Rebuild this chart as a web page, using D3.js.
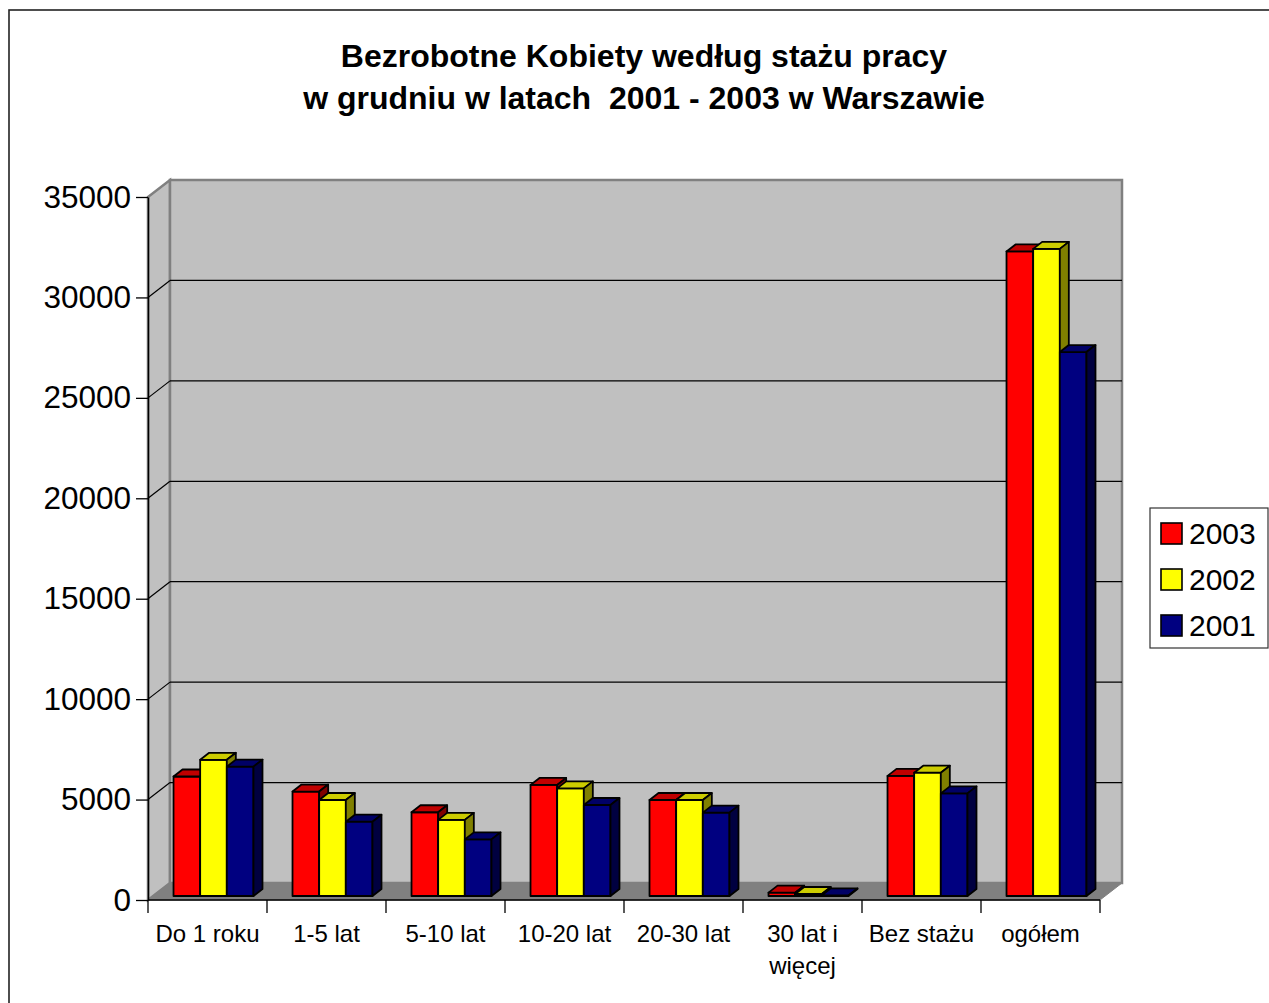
<!DOCTYPE html>
<html>
<head>
<meta charset="utf-8">
<script src="https://cdn.jsdelivr.net/npm/d3@7"></script>
<style>
  body { margin: 0; background: #fff; }
  text { font-family: Arial, "Liberation Sans", sans-serif; fill: #000; }
</style>
</head>
<body>
<div id="chart"></div>
<script>
// Data
const categories = ['Do 1 roku', '1-5 lat', '5-10 lat', '10-20 lat', '20-30 lat', '30 lat i więcej', 'Bez stażu', 'ogółem']
const categoryLabels = [['Do 1 roku'], ['1-5 lat'], ['5-10 lat'], ['10-20 lat'], ['20-30 lat'], ['30 lat i', 'więcej'], ['Bez stażu'], ['ogółem']]
const years = ['2003', '2002', '2001']
const values2003 = [5950, 5200, 4170, 5530, 4780, 170, 5980, 32090]
const values2002 = [6780, 4780, 3790, 5360, 4780, 100, 6140, 32220]
const values2001 = [6440, 3700, 2820, 4530, 4150, 30, 5110, 27080]
const yTicks = [0, 5000, 10000, 15000, 20000, 25000, 30000, 35000]
const titleLines = ['Bezrobotne Kobiety według stażu pracy', 'w grudniu w latach  2001 - 2003 w Warszawie']

const seriesValues = [values2003, values2002, values2001]

// Look
const width = 1269
const height = 1003
const colors = {
  '2003': { front: '#ff0000', top: '#c00000', side: '#800000' },
  '2002': { front: '#ffff00', top: '#cccc00', side: '#808000' },
  '2001': { front: '#000080', top: '#000066', side: '#000040' }
}

// 3D geometry: front plane of the axes, depth of the walls and of the bars
const plotLeft = 148
const plotRight = 1100
const plotBottom = 900
const plotTop = 197
const depthX = 22
const depthY = -17
const barShiftX = 6
const barShiftY = -4
const barDepthX = 9
const barDepthY = -7

const svg = d3.select('#chart')
  .append('svg')
  .attr('width', width)
  .attr('height', height)

// outer frame
svg.append('rect')
  .attr('x', 9)
  .attr('y', 10)
  .attr('width', 1400)
  .attr('height', 1200)
  .attr('fill', 'none')
  .attr('stroke', '#222')
  .attr('stroke-width', 1.6)

// Scales
const x = d3.scaleBand()
  .domain(categories)
  .range([plotLeft, plotRight])
  .paddingInner(0.328)
  .paddingOuter(0.164)

const xSeries = d3.scaleBand()
  .domain(years)
  .range([0, x.bandwidth()])

const y = d3.scaleLinear()
  .domain([0, 35000])
  .range([plotBottom, plotTop])

// Walls
const walls = svg.append('g').attr('class', 'walls')

walls.append('polygon')
  .attr('points', [[plotLeft, y(35000)], [plotLeft + depthX, y(35000) + depthY], [plotLeft + depthX, y(0) + depthY], [plotLeft, y(0)]].join(' '))
  .attr('fill', '#c0c0c0')
  .attr('stroke', '#808080')
  .attr('stroke-width', 2.5)

walls.append('rect')
  .attr('x', plotLeft + depthX)
  .attr('y', y(35000) + depthY)
  .attr('width', plotRight - plotLeft)
  .attr('height', y(0) - y(35000))
  .attr('fill', '#c0c0c0')
  .attr('stroke', '#808080')
  .attr('stroke-width', 2.5)

walls.append('polygon')
  .attr('points', [[plotLeft, y(0)], [plotRight, y(0)], [plotRight + depthX, y(0) + depthY], [plotLeft + depthX, y(0) + depthY]].join(' '))
  .attr('fill', '#808080')
  .attr('stroke', '#808080')
  .attr('stroke-width', 1)

// Gridlines on the back and side walls
const grid = walls.selectAll('.grid')
  .data(yTicks.filter(d => d > 0 && d < 35000))
  .enter()
  .append('g')
  .attr('class', 'grid')

grid.append('line')
  .attr('x1', plotLeft + depthX)
  .attr('x2', plotRight + depthX)
  .attr('y1', d => y(d) + depthY)
  .attr('y2', d => y(d) + depthY)
  .attr('stroke', '#000')
  .attr('stroke-width', 1.2)

grid.append('line')
  .attr('x1', plotLeft)
  .attr('x2', plotLeft + depthX)
  .attr('y1', d => y(d))
  .attr('y2', d => y(d) + depthY)
  .attr('stroke', '#000')
  .attr('stroke-width', 1.2)

// Bars, drawn left to right so the nearer ones cover the sides
const bars = []
categories.forEach((c, i) => {
  years.forEach((yr, j) => {
    bars.push({ category: c, year: yr, value: seriesValues[j][i] })
  })
})

const barGroups = svg.append('g')
  .attr('class', 'bars')
  .selectAll('g')
  .data(bars)
  .enter()
  .append('g')
  .attr('stroke', '#000')
  .attr('stroke-width', 1.8)
  .attr('stroke-linejoin', 'round')

barGroups.each(function (d) {
  const g = d3.select(this)
  const x0 = x(d.category) + xSeries(d.year) + barShiftX
  const x1 = x0 + xSeries.bandwidth()
  const yTop = y(d.value) + barShiftY
  const yBase = y(0) + barShiftY

  g.append('rect')
    .attr('x', x0)
    .attr('y', yTop)
    .attr('width', x1 - x0)
    .attr('height', yBase - yTop)
    .attr('fill', colors[d.year].front)

  g.append('polygon')
    .attr('points', [[x0, yTop], [x1, yTop], [x1 + barDepthX, yTop + barDepthY], [x0 + barDepthX, yTop + barDepthY]].join(' '))
    .attr('fill', colors[d.year].top)

  g.append('polygon')
    .attr('points', [[x1, yTop], [x1 + barDepthX, yTop + barDepthY], [x1 + barDepthX, yBase + barDepthY], [x1, yBase]].join(' '))
    .attr('fill', colors[d.year].side)
})

// Axes
const axisY = d3.axisLeft(y)
  .tickValues(yTicks)
  .tickFormat(d3.format('d'))
  .tickSize(12)
  .tickPadding(5)
  .tickSizeOuter(0)

svg.append('g')
  .attr('class', 'axisY')
  .attr('transform', `translate(${plotLeft}, 0)`)
  .call(axisY)
  .call(g => g.select('.domain').attr('stroke', '#000').attr('stroke-width', 1.5))
  .call(g => g.selectAll('.tick line').attr('stroke', '#000').attr('stroke-width', 1.3))
  .call(g => g.selectAll('.tick text')
    .attr('font-size', 31.5)
    .attr('font-family', 'Arial, "Liberation Sans", sans-serif')
    .attr('fill', '#000'))

// category axis: ticks between categories
const xBounds = d3.range(categories.length + 1).map(i => plotLeft + i * x.step())

svg.append('line')
  .attr('x1', plotLeft)
  .attr('x2', plotRight)
  .attr('y1', plotBottom)
  .attr('y2', plotBottom)
  .attr('stroke', '#000')
  .attr('stroke-width', 1.5)

svg.selectAll('.xtick')
  .data(xBounds)
  .enter()
  .append('line')
  .attr('class', 'xtick')
  .attr('x1', d => d)
  .attr('x2', d => d)
  .attr('y1', plotBottom)
  .attr('y2', plotBottom + 13)
  .attr('stroke', '#000')
  .attr('stroke-width', 1.3)

const xLabels = svg.selectAll('.xlabel')
  .data(categories)
  .enter()
  .append('text')
  .attr('class', 'xlabel')
  .attr('text-anchor', 'middle')
  .attr('font-size', 24)

xLabels.selectAll('tspan')
  .data((d, i) => categoryLabels[i].map(line => ({ line, c: d })))
  .enter()
  .append('tspan')
  .attr('x', d => x(d.c) + x.bandwidth() / 2)
  .attr('y', (d, k) => 942 + k * 32)
  .text(d => d.line)

// Title
svg.selectAll('.title')
  .data(titleLines)
  .enter()
  .append('text')
  .attr('class', 'title')
  .attr('x', 644)
  .attr('y', (d, i) => 67 + i * 42)
  .attr('text-anchor', 'middle')
  .attr('font-size', 32)
  .attr('font-weight', 'bold')
  .style('white-space', 'pre')
  .text(d => d)

// Legend
const legend = svg.append('g')
  .attr('class', 'legend')
  .attr('transform', 'translate(1150, 508)')

legend.append('rect')
  .attr('width', 118)
  .attr('height', 140)
  .attr('fill', '#fff')
  .attr('stroke', '#333')
  .attr('stroke-width', 1.2)

const items = legend.selectAll('.item')
  .data(years)
  .enter()
  .append('g')
  .attr('class', 'item')
  .attr('transform', (d, i) => `translate(11, ${15 + i * 46})`)

items.append('rect')
  .attr('width', 21)
  .attr('height', 21)
  .attr('fill', d => colors[d].front)
  .attr('stroke', '#000')
  .attr('stroke-width', 1.6)

items.append('text')
  .attr('x', 28)
  .attr('y', 21)
  .attr('font-size', 30)
  .text(d => d)
</script>
</body>
</html>
